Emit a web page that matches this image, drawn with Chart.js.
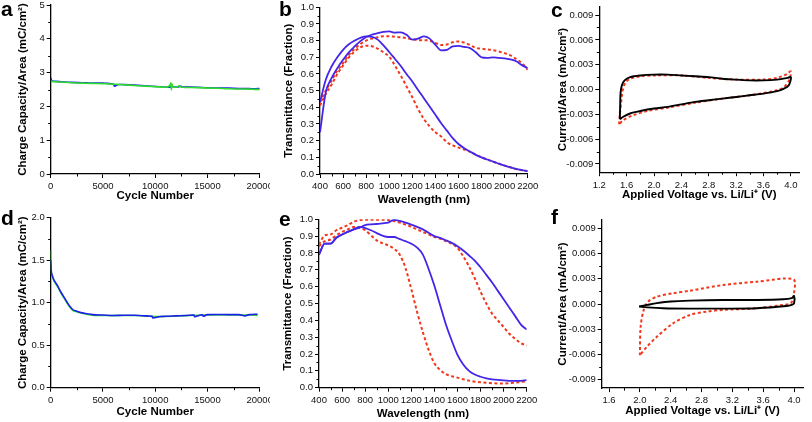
<!DOCTYPE html>
<html><head><meta charset="utf-8">
<script src="https://cdn.jsdelivr.net/npm/chart.js@4.4.0/dist/chart.umd.min.js"></script>
<style>
html,body{margin:0;padding:0;background:#fff;}
body{width:812px;height:422px;position:relative;overflow:hidden;}
canvas{position:absolute;}
.lbl{position:absolute;font:bold 21px 'Liberation Sans',Arial,sans-serif;line-height:21px;color:#000;}
</style></head><body>
<canvas id="ca" width="270" height="211" style="left:0;top:0"></canvas>
<canvas id="cb" width="270" height="211" style="left:270px;top:0"></canvas>
<canvas id="cc" width="272" height="211" style="left:540px;top:0"></canvas>
<canvas id="cd" width="270" height="211" style="left:0;top:211px"></canvas>
<canvas id="ce" width="270" height="211" style="left:270px;top:211px"></canvas>
<canvas id="cf" width="272" height="211" style="left:540px;top:211px"></canvas>
<div class="lbl" style="left:1px;top:-2px">a</div>
<div class="lbl" style="left:279px;top:-2px">b</div>
<div class="lbl" style="left:551px;top:-1px">c</div>
<div class="lbl" style="left:1px;top:207px">d</div>
<div class="lbl" style="left:279px;top:208px">e</div>
<div class="lbl" style="left:551px;top:206px">f</div>
<script>
// ---------- DATA ----------
// Panel a: charge capacity vs cycle
const aCycles = [0,100,500,1000,2000,3000,4000,5000,5500,6000,6100,6500,7000,8000,9000,10000,11000,11400,11500,11550,11600,11700,12000,12300,12400,12600,13000,14000,15000,16000,17000,18000,19000,19500,20000];
const aBlue  = [2.85,2.76,2.74,2.73,2.71,2.70,2.69,2.69,2.68,2.66,2.60,2.65,2.645,2.63,2.61,2.59,2.575,2.57,2.60,2.56,2.58,2.575,2.57,2.58,2.60,2.575,2.57,2.565,2.55,2.545,2.54,2.53,2.525,2.52,2.53];
const aGreen = [2.75,2.74,2.73,2.72,2.70,2.69,2.68,2.675,2.665,2.66,2.655,2.65,2.64,2.62,2.60,2.585,2.57,2.62,2.70,2.49,2.66,2.57,2.565,2.61,2.58,2.565,2.56,2.555,2.545,2.535,2.52,2.515,2.51,2.505,2.50];
// Panel d
const dCycles = [0,50,150,300,500,700,1000,1300,1700,2100,2500,3000,3500,4000,5000,6000,7000,8000,9000,9700,9750,10500,11000,12000,13000,13700,13750,14500,14600,15000,16000,17000,18000,18600,19000,19800];
const dBlue  = [1.50,1.38,1.32,1.27,1.23,1.19,1.12,1.06,0.98,0.92,0.90,0.88,0.87,0.86,0.855,0.85,0.852,0.852,0.845,0.84,0.82,0.838,0.84,0.845,0.85,0.855,0.835,0.858,0.84,0.86,0.862,0.86,0.86,0.845,0.86,0.865];
const dGreen = [1.62,1.36,1.31,1.26,1.22,1.18,1.11,1.05,0.97,0.91,0.893,0.875,0.862,0.853,0.85,0.848,0.85,0.85,0.843,0.84,0.84,0.836,0.838,0.843,0.848,0.852,0.852,0.855,0.856,0.857,0.857,0.856,0.856,0.856,0.857,0.85];
// Panels b, e: wavelength (nm)
const wavelengths = [400,450,500,550,600,650,700,750,800,850,900,950,1000,1050,1100,1150,1200,1250,1300,1350,1400,1450,1500,1550,1600,1650,1700,1750,1800,1850,1900,1950,2000,2050,2100,2150,2200];
const bBlueFalling = [0.43,0.565,0.645,0.70,0.745,0.778,0.80,0.817,0.826,0.822,0.806,0.772,0.732,0.69,0.648,0.60,0.555,0.504,0.455,0.405,0.355,0.305,0.26,0.215,0.18,0.155,0.135,0.115,0.10,0.087,0.074,0.062,0.05,0.04,0.03,0.023,0.017];
const bBlueRising  = [0.25,0.49,0.575,0.635,0.685,0.73,0.765,0.797,0.822,0.836,0.845,0.852,0.855,0.848,0.85,0.835,0.806,0.812,0.825,0.812,0.775,0.742,0.745,0.765,0.768,0.762,0.755,0.73,0.70,0.697,0.70,0.696,0.694,0.687,0.676,0.653,0.635];
const bRedFalling  = [0.41,0.48,0.535,0.60,0.65,0.70,0.735,0.76,0.77,0.766,0.752,0.73,0.703,0.65,0.59,0.525,0.46,0.39,0.33,0.285,0.25,0.225,0.19,0.172,0.158,0.147,0.133,0.116,0.10,0.087,0.074,0.062,0.05,0.04,0.03,0.023,0.017];
const bRedRising   = [0.43,0.50,0.56,0.62,0.665,0.715,0.75,0.78,0.80,0.812,0.82,0.826,0.826,0.823,0.82,0.815,0.808,0.803,0.803,0.80,0.786,0.774,0.777,0.79,0.795,0.788,0.773,0.757,0.752,0.747,0.743,0.735,0.725,0.712,0.69,0.665,0.625];
const eBlueHigh = [0.79,0.855,0.855,0.89,0.91,0.925,0.94,0.95,0.965,0.97,0.972,0.976,0.98,0.997,0.99,0.98,0.968,0.955,0.94,0.92,0.90,0.89,0.875,0.86,0.84,0.815,0.785,0.755,0.715,0.67,0.625,0.575,0.525,0.475,0.425,0.375,0.345];
const eBlueLow  = [0.79,0.855,0.855,0.89,0.91,0.925,0.94,0.955,0.948,0.935,0.918,0.903,0.895,0.895,0.882,0.87,0.855,0.832,0.79,0.705,0.605,0.49,0.375,0.28,0.195,0.138,0.10,0.078,0.065,0.056,0.05,0.046,0.043,0.041,0.04,0.041,0.045];
const eRedHigh  = [0.85,0.905,0.91,0.935,0.95,0.965,0.985,0.995,0.998,0.998,0.998,0.997,0.996,0.99,0.98,0.968,0.955,0.94,0.925,0.91,0.895,0.885,0.87,0.855,0.83,0.78,0.72,0.65,0.57,0.50,0.44,0.40,0.36,0.32,0.29,0.265,0.25];
const eRedLow   = [0.84,0.87,0.88,0.905,0.925,0.94,0.955,0.95,0.935,0.905,0.875,0.858,0.845,0.825,0.79,0.71,0.585,0.45,0.33,0.225,0.145,0.105,0.08,0.068,0.06,0.05,0.042,0.036,0.032,0.029,0.027,0.025,0.025,0.027,0.03,0.034,0.038];
// Panel c: CV loops (V, mA/cm2)
const cBlackV = [1.50,1.505,1.51,1.53,1.57,1.65,1.8,2.0,2.2,2.4,2.6,2.8,3.0,3.2,3.4,3.6,3.8,3.95,4.0,4.0,3.97,3.9,3.8,3.6,3.4,3.2,3.0,2.8,2.6,2.4,2.2,2.0,1.8,1.65,1.55,1.50];
const cBlackI = [-0.0036,-0.002,-0.0005,0.0005,0.0011,0.0015,0.0017,0.0018,0.0018,0.0017,0.0016,0.0015,0.0013,0.0012,0.0011,0.0011,0.0012,0.0014,0.0015,0.0012,0.0005,0.0001,-0.0002,-0.0005,-0.0007,-0.0009,-0.0011,-0.0013,-0.0015,-0.0018,-0.0021,-0.0023,-0.0026,-0.0029,-0.0033,-0.0036];
const cRedV = [1.49,1.50,1.52,1.54,1.58,1.65,1.8,2.0,2.4,2.8,3.2,3.6,3.8,3.95,4.0,3.98,3.9,3.8,3.4,3.0,2.6,2.2,1.9,1.7,1.55,1.49];
const cRedI = [-0.0042,-0.003,-0.0015,-0.0002,0.0008,0.0013,0.0016,0.0017,0.0017,0.0014,0.0012,0.0012,0.0014,0.0019,0.0022,0.0012,0.0003,-0.0001,-0.0007,-0.0011,-0.0016,-0.0022,-0.0026,-0.0031,-0.0037,-0.0042];
// Panel f
const fBlackV = [1.99,2.1,2.22,2.4,2.65,3.08,3.52,3.86,3.97,4.0,4.0,3.97,3.9,3.52,3.08,2.65,2.3,2.1,1.99];
const fBlackI = [-0.0003,-0.0001,0.0001,0.0003,0.0004,0.00048,0.00048,0.00056,0.0007,0.00095,0.0001,-0.0001,-0.00024,-0.0005,-0.00055,-0.00055,-0.0005,-0.0004,-0.0003];
const fRedV = [2.0,2.01,2.05,2.11,2.22,2.43,2.65,3.08,3.52,3.99,4.0,3.96,3.86,3.52,3.08,2.87,2.65,2.43,2.22,2.09,2.0];
const fRedI = [-0.0061,-0.0027,-0.0007,0.0003,0.00087,0.00127,0.00158,0.00226,0.00265,0.00294,0.00127,0.0001,-0.0001,-0.0005,-0.0007,-0.0009,-0.0013,-0.0023,-0.0039,-0.0051,-0.0061];
// Tick labels
const cycleTicks = [0,5000,10000,15000,20000];
const aYTicks = [0,1,2,3,4,5];
const dYTicks = [0,0.5,1.0,1.5,2.0];
const wlTicks = [400,600,800,1000,1200,1400,1600,1800,2000,2200];
const transTicks = [0,0.1,0.2,0.3,0.4,0.5,0.6,0.7,0.8,0.9,1.0];
const cXTicks = [1.2,1.6,2.0,2.4,2.8,3.2,3.6,4.0];
const fXTicks = [1.6,2.0,2.4,2.8,3.2,3.6,4.0];
const currTicks = [-0.009,-0.006,-0.003,0,0.003,0.006,0.009];

// ---------- RENDER ----------
const FAM = "'Liberation Sans', Arial, sans-serif";
const BLUE = '#4426e8', RED = '#f2381c', BLACK = '#000';
const BLUE2 = '#1e1eee', GREEN = '#2edc2e';

const minorTicks = {
  id: 'minorTicks',
  afterDraw(chart) {
    const ctx = chart.ctx, ca = chart.chartArea;
    ctx.save();
    ctx.strokeStyle = '#000'; ctx.lineWidth = 1;
    ctx.beginPath();
    ['x','y'].forEach(id => {
      const s = chart.scales[id];
      const t = s.ticks.map(k => k.value);
      const mins = [];
      for (let i = 0; i < t.length - 1; i++) mins.push((t[i] + t[i+1]) / 2);
      const st = t[1] - t[0];
      if (t[0] - st/2 >= s.min) mins.push(t[0] - st/2);
      if (t[t.length-1] + st/2 <= s.max) mins.push(t[t.length-1] + st/2);
      mins.forEach(v => {
        const p = Math.round(s.getPixelForValue(v)) + 0.5;
        if (id === 'x') { ctx.moveTo(p, ca.bottom); ctx.lineTo(p, ca.bottom + 2.5); }
        else { ctx.moveTo(ca.left, p); ctx.lineTo(ca.left - 2.5, p); }
      });
    });
    ctx.stroke();
    ctx.restore();
  }
};

function pts(xs, ys) { return xs.map((x, i) => ({x: x, y: ys[i]})); }
function line(data, color, dashed, w, mono) {
  return { data, borderColor: color, borderWidth: w || 1.8, borderDash: dashed ? [3, 2.5] : [],
    pointRadius: 0, showLine: true, fill: false,
    tension: mono ? 0 : 0.3, cubicInterpolationMode: mono ? 'monotone' : 'default' };
}

function axis(cfg, horiz, geom) {
  return {
    type: 'linear', min: cfg.min, max: cfg.max,
    afterBuildTicks: s => { s.ticks = cfg.ticks.map(v => ({value: v})); },
    afterFit: s => {
      if (horiz) s.height = geom.h - geom.b; else s.width = geom.l;
      s.paddingLeft = 0; s.paddingRight = 0; s.paddingTop = 0; s.paddingBottom = 0;
    },
    grid: { drawOnChartArea: false, drawTicks: true, tickLength: 4, tickColor: '#000', tickWidth: 1, color: '#000' },
    border: { display: true, color: '#000', width: 1.3 },
    ticks: { color: '#111', font: { family: FAM, size: 9.5 }, padding: horiz ? 3 : 2,
      maxRotation: 0, minRotation: 0, autoSkip: false, callback: v => cfg.fmt(v) },
    title: { display: true, text: cfg.title, color: '#000',
      font: { family: FAM, size: 11.5, weight: 'bold' },
      padding: horiz ? { top: 0, bottom: cfg.tp } : { top: cfg.tp, bottom: 0 } }
  };
}

function makeChart(id, geom, datasets, xc, yc) {
  new Chart(document.getElementById(id), {
    type: 'scatter',
    data: { datasets },
    options: {
      responsive: false, animation: false, devicePixelRatio: 1,
      layout: { padding: { left: 0, top: geom.t, right: geom.w - geom.r, bottom: 0 } },
      plugins: { legend: { display: false }, tooltip: { enabled: false } },
      scales: { x: axis(xc, true, geom), y: axis(yc, false, geom) }
    },
    plugins: [minorTicks]
  });
}

const fmtInt = v => String(v);
const fmt1 = v => v.toFixed(1);
const fmt3 = v => (Math.abs(v) < 1e-9 ? 0 : v).toFixed(3);
const LH = 6.9;

// a
makeChart('ca', {w:270, h:211, l:50.7, t:5, r:259.7, b:174},
  [line(pts(aCycles, aGreen), GREEN, false, 1.6, true), line(pts(aCycles, aBlue), BLUE2, false, 1.6, true)],
  {min:0, max:20000, ticks:cycleTicks, fmt:fmtInt, title:'Cycle Number', tp: 15.2 - LH},
  {min:0, max:5, ticks:aYTicks, fmt:fmtInt, title:'Charge Capacity/Area (mC/cm\u00B2)', tp: 23 - LH});
// b
makeChart('cb', {w:270, h:211, l:50, t:7.3, r:257.7, b:174},
  [line(pts(wavelengths, bBlueRising), BLUE, false, 1.8, true), line(pts(wavelengths, bBlueFalling), BLUE, false, 1.8, true),
   line(pts(wavelengths, bRedRising), RED, true, 2, true), line(pts(wavelengths, bRedFalling), RED, true, 2, true)],
  {min:400, max:2200, ticks:wlTicks, fmt:fmtInt, title:'Wavelength (nm)', tp: 11 - LH},
  {min:0, max:1, ticks:transTicks, fmt:fmt1, title:'Transmittance (Fraction)', tp: 19 - LH});
// c
makeChart('cc', {w:272, h:211, l:59.3, t:6.8, r:259.3, b:172.2},
  [line(pts(cBlackV, cBlackI), BLACK, false, 1.9), line(pts(cRedV, cRedI), RED, true, 2)],
  {min:1.2, max:4.124, ticks:cXTicks, fmt:fmt1, title:'Applied Voltage vs. Li/Li\u207A (V)', tp: 16 - LH},
  {min:-0.01, max:0.01, ticks:currTicks, fmt:fmt3, title:'Current/Area (mA/cm\u00B2)', tp: 23 - LH});
// d
makeChart('cd', {w:270, h:211, l:50.7, t:6.7, r:259.7, b:176.7},
  [line(pts(dCycles, dBlue), BLUE2, false, 1.6, true), line(pts(dCycles, dGreen), GREEN, false, 1.6, true)],
  {min:0, max:20000, ticks:cycleTicks, fmt:fmtInt, title:'Cycle Number', tp: 9.7 - LH},
  {min:0, max:2, ticks:dYTicks, fmt:fmt1, title:'Charge Capacity/Area (mC/cm\u00B2)', tp: 23 - LH});
// e
makeChart('ce', {w:270, h:211, l:49, t:8.3, r:256.7, b:176.7},
  [line(pts(wavelengths, eBlueHigh), BLUE, false, 1.8, true), line(pts(wavelengths, eBlueLow), BLUE, false, 1.8, true),
   line(pts(wavelengths, eRedHigh), RED, true, 2, true), line(pts(wavelengths, eRedLow), RED, true, 2, true)],
  {min:400, max:2200, ticks:wlTicks, fmt:fmtInt, title:'Wavelength (nm)', tp: 8.2 - LH},
  {min:0, max:1, ticks:transTicks, fmt:fmt1, title:'Transmittance (Fraction)', tp: 17.5 - LH});
// f
makeChart('cf', {w:272, h:211, l:61.7, t:8.9, r:263.3, b:177.1},
  [line(pts(fBlackV, fBlackI), BLACK, false, 1.9), line(pts(fRedV, fRedI), RED, true, 2)],
  {min:1.505, max:4.12, ticks:fXTicks, fmt:fmt1, title:'Applied Voltage vs. Li/Li\u207A (V)', tp: 11 - LH},
  {min:-0.01, max:0.01, ticks:currTicks, fmt:fmt3, title:'Current/Area (mA/cm\u00B2)', tp: 23 - LH});
</script>
</body></html>
